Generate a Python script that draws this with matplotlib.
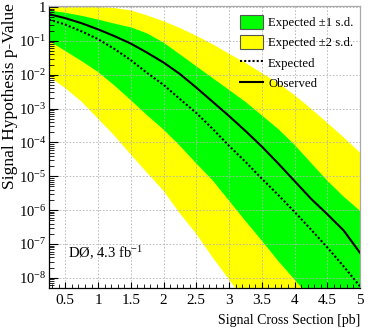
import numpy as np
import matplotlib
matplotlib.use("Agg")
import matplotlib.pyplot as plt
from matplotlib.ticker import FixedLocator, MultipleLocator, FuncFormatter, NullFormatter
from matplotlib.patches import Patch
from matplotlib.lines import Line2D

plt.rcParams['font.family'] = ['Liberation Serif', 'DejaVu Serif']
plt.rcParams['mathtext.fontset'] = 'custom'
plt.rcParams['mathtext.rm'] = 'Liberation Serif'
plt.rcParams['mathtext.it'] = 'Liberation Serif:italic'
plt.rcParams['mathtext.bf'] = 'Liberation Serif:bold'

# ---- data (log10 of p-value) ----
xsec = [0.25, 0.5, 0.75, 1.0, 1.25, 1.5, 1.75, 2.0, 2.25, 2.5,
        2.75, 3.0, 3.25, 3.5, 3.75, 4.0, 4.25, 4.5, 4.75, 5.0]
observed_log10 = [-0.21, -0.33, -0.48, -0.66, -0.86, -1.08, -1.35, -1.64, -1.98, -2.38,
                  -2.80, -3.22, -3.66, -4.12, -4.62, -5.14, -5.66, -6.12, -6.60, -7.26]
expected_log10 = [-0.37, -0.52, -0.72, -0.95, -1.24, -1.57, -1.95, -2.30, -2.72, -3.13,
                  -3.60, -4.10, -4.57, -5.07, -5.55, -6.05, -6.57, -7.10, -7.66, -8.25]
sd1_hi_log10 = [-0.10, -0.17, -0.26, -0.37, -0.49, -0.60, -0.78, -1.05, -1.40, -1.75,
                -2.10, -2.45, -2.80, -3.20, -3.60, -4.07, -4.60, -5.13, -5.60, -6.02]
sd1_lo_log10 = [-1.00, -1.30, -1.60, -1.92, -2.32, -2.75, -3.20, -3.62, -4.10, -4.62,
                -5.12, -5.72, -6.32, -6.90, -7.50, -8.05, -8.62, -9.20, -9.80, -10.40]
sd2_hi_log10 = [0.0, 0.0, 0.0, 0.0, -0.03, -0.10, -0.25, -0.42, -0.62, -0.85,
                -1.10, -1.38, -1.65, -1.95, -2.25, -2.60, -3.00, -3.42, -3.85, -4.30]
sd2_lo_log10 = [-2.05, -2.40, -2.80, -3.30, -3.80, -4.36, -4.90, -5.43, -6.10, -6.70,
                -7.40, -8.05, -8.70, -9.30, -9.90, -10.50, -11.10, -11.70, -12.30, -12.90]

y_decades = [0, -1, -2, -3, -4, -5, -6, -7, -8]
x_ticks = [0.5, 1.0, 1.5, 2.0, 2.5, 3.0, 3.5, 4.0, 4.5, 5.0]

legend_labels = ["Expected \u00b11 s.d.", "Expected \u00b12 s.d.", "Expected", "Observed"]

x = np.array(xsec)
obs = 10.0 ** np.array(observed_log10)
exp_ = 10.0 ** np.array(expected_log10)
g_hi = 10.0 ** np.array(sd1_hi_log10)
g_lo = 10.0 ** np.array(sd1_lo_log10)
y_hi = 10.0 ** np.array(sd2_hi_log10)
y_lo = 10.0 ** np.array(sd2_lo_log10)

W, H = 374, 332
fig = plt.figure(figsize=(W / 100, H / 100), dpi=100)
L, R, T, B = 49, 360, 6, 288
ax = fig.add_axes([L / W, 1 - B / H, (R - L) / W, (B - T) / H])

GREEN = '#00ff00'
YELLOW = '#ffff00'

ax.fill_between(x, y_lo, y_hi, color=YELLOW, linewidth=0, zorder=1)
ax.fill_between(x, g_lo, g_hi, color=GREEN, linewidth=0, zorder=1.1)
ax.plot(x, exp_, color='black', lw=1.5, linestyle=(0, (1, 1)), zorder=2)
ax.plot(x, obs, color='black', lw=1.5, zorder=2.1)

ax.set_yscale('log')
ax.set_xlim(0.25, 5.0)
ymin, ymax = 10 ** -8.3, 10 ** 0.03
ax.set_ylim(ymin, ymax)

ax.xaxis.set_major_locator(FixedLocator(x_ticks))
ax.xaxis.set_minor_locator(MultipleLocator(0.1))
ax.xaxis.set_major_formatter(FuncFormatter(lambda v, p: '%g' % v))

major_y = [10.0 ** e for e in y_decades]
minor_y = [m * 10.0 ** e for e in range(-9, 1) for m in range(2, 10)
           if ymin <= m * 10.0 ** e <= ymax]
ax.yaxis.set_major_locator(FixedLocator(major_y))
ax.yaxis.set_minor_locator(FixedLocator(minor_y))
ax.yaxis.set_minor_formatter(NullFormatter())


def yfmt(v, p):
    e = int(round(np.log10(v)))
    if e == 0:
        return '1'
    return r'$10^{%d}$' % e


ax.yaxis.set_major_formatter(FuncFormatter(yfmt))

ax.tick_params(axis='y', which='major', direction='in', length=6.5, width=0.8,
               labelsize=10.5, pad=2, right=False)
ax.tick_params(axis='y', which='minor', direction='in', length=3.6, width=0.6, right=False)
ax.tick_params(axis='x', which='major', direction='in', length=4.3, width=0.8,
               labelsize=11, pad=4, top=False)
ax.tick_params(axis='x', which='minor', direction='in', length=2.6, width=0.6, top=False)

ax.set_axisbelow('line')
ax.grid(True, which='major', color='#b4b4b4', linestyle=(0, (2, 2)), linewidth=0.6)

for s in ['left', 'bottom']:
    ax.spines[s].set_color('black')
    ax.spines[s].set_linewidth(0.9)
for s in ['top', 'right']:
    ax.spines[s].set_color('#aaaaaa')
    ax.spines[s].set_linewidth(0.9)

ax.set_xlabel('Signal Cross Section [pb]', fontsize=10, ha='right', va='baseline')
ax.xaxis.set_label_coords(1.0, -(324 - B) / (B - T))
ax.set_ylabel('Signal Hypothesis p-Value', fontsize=12.5, ha='right', va='center')
ax.yaxis.set_label_coords(-(L - 10) / (R - L), 1 + (T - 3) / (B - T))

fig.text(68 / W, 1 - 258 / H, 'D\u00d8, 4.3 fb$^{-1}$', fontsize=10.5, ha='left', va='baseline')

handles = [Patch(facecolor=GREEN, edgecolor='#555555', linewidth=0.8),
           Patch(facecolor=YELLOW, edgecolor='#555555', linewidth=0.8),
           Line2D([], [], color='black', lw=1.5, linestyle=(0, (1, 1))),
           Line2D([], [], color='black', lw=1.5)]
ax.legend(handles, legend_labels, loc='upper left', bbox_to_anchor=(240 / W, 1 - 15 / H),
          bbox_transform=fig.transFigure, frameon=False, fontsize=9.2,
          handlelength=1.8, handleheight=1.25, handletextpad=0.4, labelspacing=0.5,
          borderpad=0, borderaxespad=0)

fig.savefig('out.png', dpi=100)
